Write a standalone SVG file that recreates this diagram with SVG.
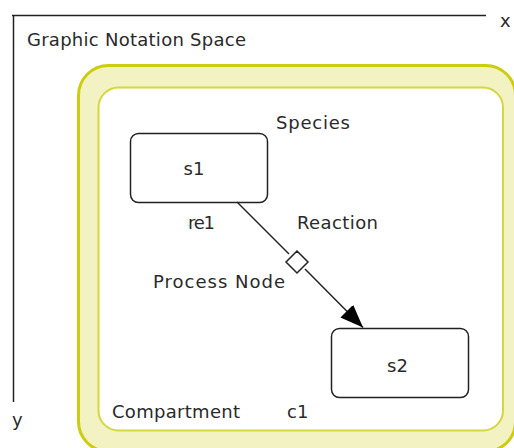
<svg xmlns="http://www.w3.org/2000/svg" width="514" height="448" viewBox="0 0 514 448">
<style>
text{font-family:"DejaVu Sans","Liberation Sans",sans-serif;font-size:18px;fill:#2a2a2a}
.sp{fill:#fff;stroke:#222;stroke-width:1.5}
.ax{stroke:#222;stroke-width:1.5;fill:none}
</style>
<defs>
<marker id="arr" markerWidth="24" markerHeight="18" refX="23" refY="9" orient="auto" markerUnits="userSpaceOnUse">
<path d="M0,0 L23,9 L0,18 Z" fill="#000"/>
</marker>
</defs>
<g id="axes">
<line class="ax" x1="12" y1="15.5" x2="486" y2="15.5"/>
<line class="ax" x1="13.5" y1="15" x2="13.5" y2="402"/>
<text x="500" y="27">x</text>
<text x="12" y="426">y</text>
<text x="27" y="46" textLength="219" lengthAdjust="spacing">Graphic Notation Space</text>
</g>
<g id="c1">
<rect x="78.5" y="65.5" width="437" height="386" rx="30" fill="#f2f2c2" stroke="#cccc10" stroke-width="3"/>
<rect x="98.5" y="87.5" width="404.5" height="343" rx="20" fill="#fff" stroke="#d6d640" stroke-width="2"/>
<text x="112" y="418" textLength="128" lengthAdjust="spacing">Compartment</text>
<text x="287" y="418">c1</text>
</g>
<g id="s1">
<rect class="sp" x="130.5" y="133.5" width="137" height="69" rx="8"/>
<text x="194" y="175" text-anchor="middle">s1</text>
<text x="276" y="129" textLength="74" lengthAdjust="spacing">Species</text>
</g>
<g id="s2">
<rect class="sp" x="331.5" y="328.5" width="137" height="69" rx="8"/>
<text x="397.5" y="372" text-anchor="middle">s2</text>
</g>
<g id="connectors">
<line x1="237" y1="202" x2="289" y2="254" stroke="#222" stroke-width="1.5"/>
<line x1="305" y1="269" x2="363" y2="327.5" stroke="#222" stroke-width="1.5" marker-end="url(#arr)"/>
</g>
<g id="re1">
<polygon points="286,262 297,251 308,262 297,273" fill="#fff" stroke="#222" stroke-width="1.5"/>
<text x="188" y="229" textLength="27" lengthAdjust="spacing">re1</text>
<text x="297" y="229" textLength="81" lengthAdjust="spacing">Reaction</text>
<text x="153" y="288" textLength="132" lengthAdjust="spacing">Process Node</text>
</g>
</svg>
